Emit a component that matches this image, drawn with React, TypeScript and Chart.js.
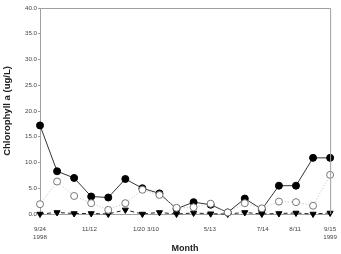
import React, { useEffect, useRef } from "react";
import { Chart, registerables } from "chart.js";

Chart.register(...registerables);

const sampleNumbers = [0, 1, 2, 3, 4, 5, 6, 7, 8, 9, 10, 11, 12, 13, 14, 15, 16, 17];
const filledCircle = [17.2, 8.3, 7.0, 3.4, 3.2, 6.8, 5.0, 4.0, 1.0, 2.3, 1.8, 0.3, 3.0, 0.9, 5.5, 5.5, 10.9, 10.9];
const openCircle = [1.9, 6.3, 3.5, 2.1, 0.8, 2.1, 4.7, 3.7, 1.2, 1.3, 2.0, 0.3, 2.1, 1.1, 2.4, 2.3, 1.6, 7.6];
const triangle = [0.0, 0.3, 0.1, 0.1, 0.0, 0.8, 0.0, 0.3, 0.0, 0.2, 0.05, 0.0, 0.3, 0.0, 0.1, 0.2, 0.0, 0.2];
const tickPositions = [0, 2.9, 5.8, 6.62, 9.95, 13.05, 14.95, 17];
const tickLabels: (string | string[])[] = [["9/24", "1998"], "11/12", "1/20", "3/10", "5/13", "7/14", "8/11", ["9/15", "1999"]];

const framePlugin = {
  id: "frame",
  afterDraw(chart: any) {
    const { ctx, chartArea } = chart;
    ctx.save();
    ctx.strokeStyle = "#a0a0a0";
    ctx.lineWidth = 1;
    ctx.beginPath();
    ctx.moveTo(chartArea.left, chartArea.top + 0.5);
    ctx.lineTo(chartArea.right + 0.5, chartArea.top + 0.5);
    ctx.lineTo(chartArea.right + 0.5, chartArea.bottom);
    ctx.stroke();
    ctx.restore();
  },
};

export default function App() {
  const ref = useRef<HTMLCanvasElement>(null);
  useEffect(() => {
    document.body.style.margin = "0";
    const toXY = (arr: number[]) => arr.map((v, i) => ({ x: sampleNumbers[i], y: v }));
    const chart = new Chart(ref.current!, {
      type: "line",
      data: {
        datasets: [
          {
            label: "triangle",
            data: toXY(triangle),
            borderColor: "#222",
            borderWidth: 1,
            borderDash: [4, 3],
            pointStyle: "triangle",
            rotation: 180,
            pointRadius: 3.5,
            pointBackgroundColor: "#000",
            pointBorderColor: "#000",
            clip: false,
            order: 3,
          },
          {
            label: "open",
            data: toXY(openCircle),
            borderColor: "#bbb",
            borderWidth: 1,
            borderDash: [1, 2],
            pointStyle: "circle",
            pointRadius: 3.5,
            pointBackgroundColor: "#fff",
            pointBorderColor: "#777",
            pointBorderWidth: 1,
            clip: false,
            order: 1,
          },
          {
            label: "filled",
            data: toXY(filledCircle),
            borderColor: "#333",
            borderWidth: 1,
            pointStyle: "circle",
            pointRadius: 3.5,
            pointBackgroundColor: "#000",
            pointBorderColor: "#000",
            clip: false,
            order: 2,
          },
        ],
      },
      options: {
        animation: false,
        responsive: false,
        layout: { padding: { top: 8, right: 8, left: 0, bottom: 0 } },
        plugins: { legend: { display: false }, tooltip: { enabled: false } },
        scales: {
          x: {
            type: "linear",
            min: 0,
            max: 17,
            afterBuildTicks: (scale: any) => {
              scale.ticks = tickPositions.map((v) => ({ value: v }));
            },
            afterFit: (scale: any) => {
              scale.height = 40;
            },
            ticks: {
              autoSkip: false,
              maxRotation: 0,
              padding: 4,
              color: "#444",
              font: { family: "Liberation Sans", size: 6.2 },
              callback: (_v: any, i: number) => tickLabels[i],
            },
            grid: { display: false },
            border: { display: true, color: "#a0a0a0" },
            title: {
              display: true,
              text: "Month",
              color: "#222",
              font: { family: "Liberation Sans", size: 9, weight: "bold" },
              padding: { top: 0, bottom: 0 },
            },
          },
          y: {
            min: 0,
            max: 40,
            afterFit: (scale: any) => {
              scale.width = 40;
            },
            ticks: {
              stepSize: 5,
              padding: 1,
              color: "#444",
              font: { family: "Liberation Sans", size: 6.2 },
              callback: (v: any) => Number(v).toFixed(1),
            },
            grid: { display: true, drawOnChartArea: false, drawTicks: true, tickLength: 2, color: "#a0a0a0" },
            border: { display: true, color: "#a0a0a0" },
            title: {
              display: true,
              text: "Chlorophyll a (ug/L)",
              color: "#222",
              font: { family: "Liberation Sans", size: 9.5, weight: "bold" },
              padding: { top: 2, bottom: 4 },
            },
          },
        },
      },
      plugins: [framePlugin],
    });
    return () => chart.destroy();
  }, []);
  return <canvas ref={ref} width={341} height={254} style={{ display: "block" }} />;
}
